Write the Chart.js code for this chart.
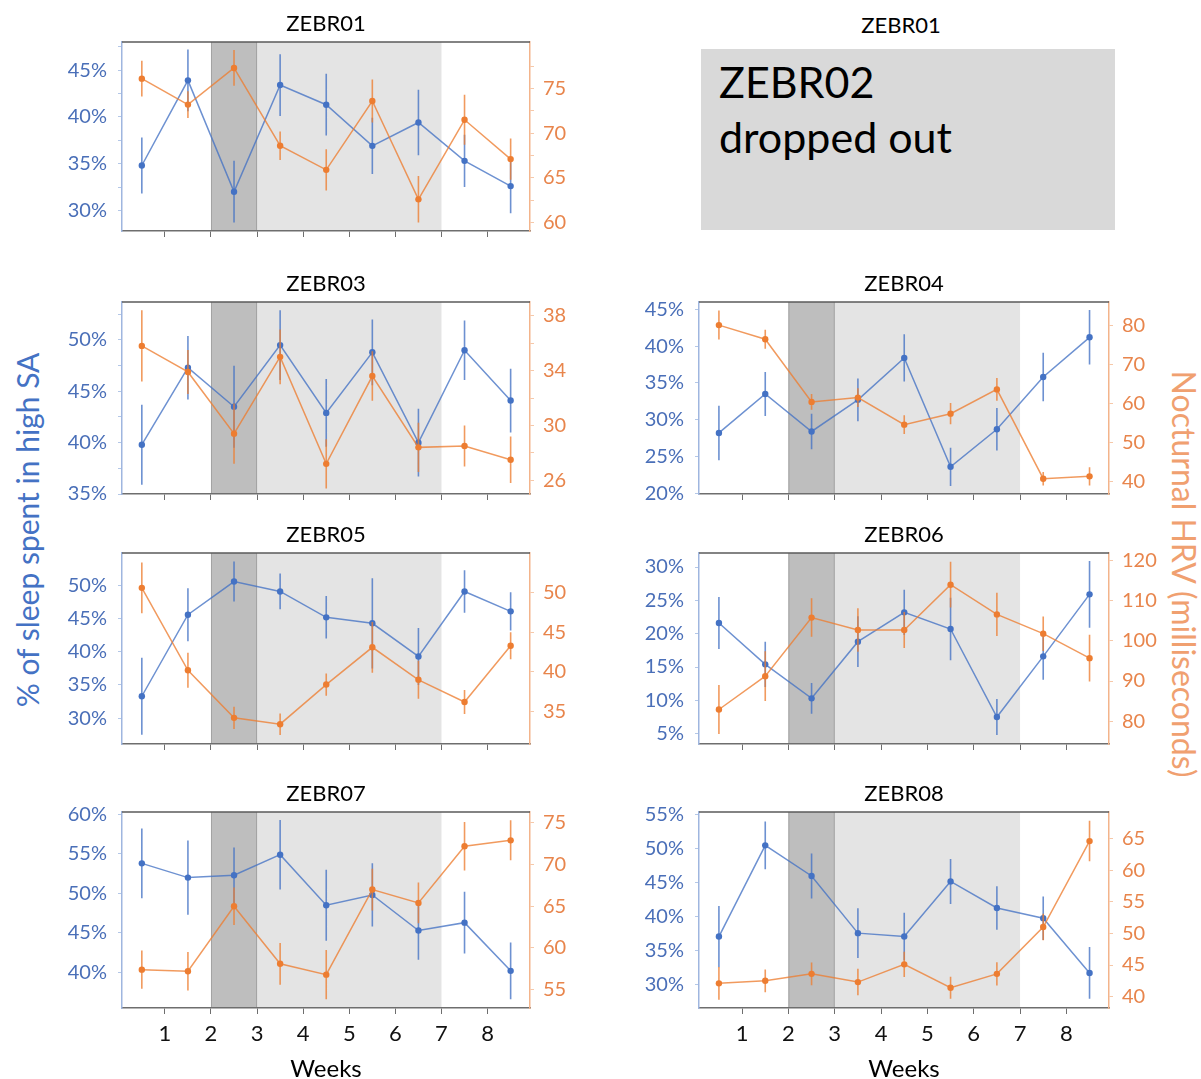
<!DOCTYPE html>
<html>
<head>
<meta charset="utf-8">
<title>Sleep in high SA and nocturnal HRV by participant</title>
<script src="https://cdn.jsdelivr.net/npm/chart.js@4.4.1/dist/chart.umd.min.js"></script>
<style>
  html, body { margin: 0; padding: 0; background: #fff; overflow: hidden; }
  #page { position: relative; width: 1201px; height: 1079px; font-family: Lato, "Open Sans", sans-serif; }
  #page canvas { position: absolute; }
  .axis-title { position: absolute; white-space: nowrap; line-height: 1.2; }
  #sleepTitle { left: 27px; top: 530px; font-size: 30px; color: #4472c4; transform: translate(-50%, -50%) rotate(-90deg); }
  #hrvTitle { left: 1184px; top: 574px; font-size: 32px; color: #f0a070; transform: translate(-50%, -50%) rotate(90deg); }
  #droppedTitle { position: absolute; left: 901px; top: 24px; transform: translate(-50%, -50%); font-size: 22px; color: #000; white-space: nowrap; }
  #droppedBox { position: absolute; left: 701px; top: 49px; width: 414px; height: 181px; background: #d9d9d9;
                box-sizing: border-box; padding: 5px 0 0 18px; font-size: 43px; line-height: 55px; color: #000; }
</style>
</head>
<body>
<div id="page">
  <div class="axis-title" id="sleepTitle">% of sleep spent in high SA</div>
  <div class="axis-title" id="hrvTitle">Nocturnal HRV (milliseconds)</div>
  <div id="droppedTitle">ZEBR01</div>
  <div id="droppedBox"><div>ZEBR02</div><div>dropped out</div></div>
</div>
<script>
// Each measurement sits in the middle of its week interval
const periods = [0.5, 1.5, 2.5, 3.5, 4.5, 5.5, 6.5, 7.5, 8.5];
const weekTicks = [1, 2, 3, 4, 5, 6, 7, 8];
const baselineBand = [2, 3];
const interventionBand = [3, 7];

// ZEBR01
const zebr01Sleep    = [34.8, 43.9, 32.0, 43.4, 41.3, 36.9, 39.4, 35.3, 32.6];
const zebr01SleepErr = [3.0, 3.3, 3.3, 3.3, 3.3, 3.0, 3.5, 2.8, 2.9];
const zebr01Hrv      = [76.1, 73.2, 77.3, 68.6, 65.9, 73.6, 62.6, 71.5, 67.1];
const zebr01HrvErr   = [2.0, 1.5, 2.0, 1.6, 2.3, 2.4, 2.6, 2.8, 2.3];
const zebr01SleepTicks = [30, 32.5, 35, 37.5, 40, 42.5, 45, 47.5];
const zebr01SleepLabels = [30, 35, 40, 45];
const zebr01HrvTicks = [60, 62.5, 65, 67.5, 70, 72.5, 75, 77.5];
const zebr01HrvLabels = [60, 65, 70, 75];

// ZEBR03
const zebr03Sleep    = [39.8, 47.3, 43.5, 49.5, 42.9, 48.8, 40.0, 49.0, 44.1];
const zebr03SleepErr = [3.9, 3.1, 4.0, 3.4, 3.3, 3.2, 3.3, 2.9, 3.1];
const zebr03Hrv      = [35.8, 33.9, 29.4, 35.0, 27.2, 33.6, 28.4, 28.5, 27.5];
const zebr03HrvErr   = [2.6, 1.6, 2.2, 2.0, 1.8, 1.8, 1.8, 1.5, 1.7];
const zebr03SleepTicks = [35, 37.5, 40, 42.5, 45, 47.5, 50, 52.5];
const zebr03SleepLabels = [35, 40, 45, 50];
const zebr03HrvTicks = [26, 28, 30, 32, 34, 36, 38];
const zebr03HrvLabels = [26, 30, 34, 38];

// ZEBR04
const zebr04Sleep    = [28.2, 33.5, 28.4, 32.7, 38.4, 23.6, 28.7, 35.8, 41.2];
const zebr04SleepErr = [3.7, 3.0, 2.4, 2.9, 3.2, 2.6, 2.9, 3.3, 3.7];
const zebr04Hrv      = [80.0, 76.4, 60.4, 61.5, 54.6, 57.4, 63.6, 40.8, 41.4];
const zebr04HrvErr   = [3.7, 2.4, 2.0, 2.4, 2.4, 2.7, 2.9, 1.7, 2.3];
const zebr04SleepTicks = [20, 25, 30, 35, 40, 45];
const zebr04HrvTicks = [40, 50, 60, 70, 80];

// ZEBR05
const zebr05Sleep    = [33.3, 45.6, 50.6, 49.1, 45.2, 44.3, 39.3, 49.1, 46.1];
const zebr05SleepErr = [5.8, 4.0, 3.0, 2.7, 3.2, 6.8, 4.3, 3.2, 2.9];
const zebr05Hrv      = [50.6, 40.2, 34.2, 33.4, 38.4, 43.1, 39.0, 36.2, 43.3];
const zebr05HrvErr   = [3.2, 2.2, 1.4, 1.35, 1.4, 3.2, 2.4, 1.5, 1.7];
const zebr05SleepTicks = [30, 35, 40, 45, 50];
const zebr05HrvTicks = [35, 40, 45, 50];

// ZEBR06
const zebr06Sleep    = [21.6, 15.4, 10.3, 18.8, 23.2, 20.7, 7.5, 16.6, 25.9];
const zebr06SleepErr = [3.9, 3.4, 2.3, 3.8, 3.4, 4.7, 2.7, 3.5, 5.0];
const zebr06Hrv      = [82.9, 91.2, 105.8, 102.7, 102.7, 114.0, 106.6, 101.8, 95.7];
const zebr06HrvErr   = [6.1, 6.2, 4.8, 5.4, 4.5, 5.7, 5.4, 4.3, 5.8];
const zebr06SleepTicks = [5, 10, 15, 20, 25, 30];
const zebr06HrvTicks = [80, 90, 100, 110, 120];

// ZEBR07
const zebr07Sleep    = [53.8, 52.0, 52.3, 54.9, 48.5, 49.8, 45.3, 46.3, 40.2];
const zebr07SleepErr = [4.4, 4.7, 3.5, 4.4, 4.5, 4.0, 3.7, 3.9, 3.6];
const zebr07Hrv      = [57.4, 57.2, 65.0, 58.1, 56.8, 67.0, 65.4, 72.2, 72.9];
const zebr07HrvErr   = [2.3, 2.3, 2.25, 2.5, 2.95, 2.5, 2.45, 2.9, 2.4];
const zebr07SleepTicks = [40, 45, 50, 55, 60];
const zebr07HrvTicks = [55, 60, 65, 70, 75];

// ZEBR08
const zebr08Sleep    = [37.1, 50.5, 46.0, 37.6, 37.1, 45.2, 41.3, 39.8, 31.75];
const zebr08SleepErr = [4.5, 3.5, 3.3, 3.65, 3.5, 3.3, 3.2, 3.2, 3.8];
const zebr08Hrv      = [42.1, 42.5, 43.6, 42.3, 45.1, 41.4, 43.6, 51.0, 64.6];
const zebr08HrvErr   = [2.6, 1.8, 1.8, 2.1, 2.0, 1.75, 1.85, 2.1, 3.2];
const zebr08SleepTicks = [30, 35, 40, 45, 50, 55];
const zebr08HrvTicks = [40, 45, 50, 55, 60, 65];

// Panel grid: plot-area edges for each column and row
const COLS = [{ left: 122, right: 530 }, { left: 699, right: 1109 }];
const ROWS = [{ top: 42, bottom: 238 }, { top: 302, bottom: 501 }, { top: 553, bottom: 751 }, { top: 812, bottom: 1008 }];
const X_RANGE = [0.07, 8.92];

const SLEEP_LINE = 'rgba(68,114,196,0.78)';
const SLEEP_POINT = '#4472c4';
const HRV_LINE = 'rgba(237,125,49,0.78)';
const HRV_POINT = '#ed7d31';

const panels = [
  { name: 'ZEBR01', col: 0, row: 0, sleep: zebr01Sleep, sleepErr: zebr01SleepErr, hrv: zebr01Hrv, hrvErr: zebr01HrvErr,
    sleepRange: [27.8, 48.0], hrvRange: [59.06, 80.2], sleepTicks: zebr01SleepTicks, sleepLabels: zebr01SleepLabels, hrvTicks: zebr01HrvTicks, hrvLabels: zebr01HrvLabels },
  { name: 'ZEBR03', col: 0, row: 1, sleep: zebr03Sleep, sleepErr: zebr03SleepErr, hrv: zebr03Hrv, hrvErr: zebr03HrvErr,
    sleepRange: [35, 53.7], hrvRange: [25, 39], sleepTicks: zebr03SleepTicks, sleepLabels: zebr03SleepLabels, hrvTicks: zebr03HrvTicks, hrvLabels: zebr03HrvLabels },
  { name: 'ZEBR04', col: 1, row: 1, sleep: zebr04Sleep, sleepErr: zebr04SleepErr, hrv: zebr04Hrv, hrvErr: zebr04HrvErr,
    sleepRange: [19.9, 46.0], hrvRange: [36.9, 85.9], sleepTicks: zebr04SleepTicks, sleepLabels: zebr04SleepTicks, hrvTicks: zebr04HrvTicks, hrvLabels: zebr04HrvTicks },
  { name: 'ZEBR05', col: 0, row: 2, sleep: zebr05Sleep, sleepErr: zebr05SleepErr, hrv: zebr05Hrv, hrvErr: zebr05HrvErr,
    sleepRange: [26.1, 54.9], hrvRange: [30.9, 55.0], sleepTicks: zebr05SleepTicks, sleepLabels: zebr05SleepTicks, hrvTicks: zebr05HrvTicks, hrvLabels: zebr05HrvTicks },
  { name: 'ZEBR06', col: 1, row: 2, sleep: zebr06Sleep, sleepErr: zebr06SleepErr, hrv: zebr06Hrv, hrvErr: zebr06HrvErr,
    sleepRange: [3.45, 32.1], hrvRange: [74.3, 121.9], sleepTicks: zebr06SleepTicks, sleepLabels: zebr06SleepTicks, hrvTicks: zebr06HrvTicks, hrvLabels: zebr06HrvTicks },
  { name: 'ZEBR07', col: 0, row: 3, sleep: zebr07Sleep, sleepErr: zebr07SleepErr, hrv: zebr07Hrv, hrvErr: zebr07HrvErr,
    sleepRange: [35.5, 60.3], hrvRange: [52.8, 76.3], sleepTicks: zebr07SleepTicks, sleepLabels: zebr07SleepTicks, hrvTicks: zebr07HrvTicks, hrvLabels: zebr07HrvTicks },
  { name: 'ZEBR08', col: 1, row: 3, sleep: zebr08Sleep, sleepErr: zebr08SleepErr, hrv: zebr08Hrv, hrvErr: zebr08HrvErr,
    sleepRange: [26.6, 55.4], hrvRange: [38.2, 69.2], sleepTicks: zebr08SleepTicks, sleepLabels: zebr08SleepTicks, hrvTicks: zebr08HrvTicks, hrvLabels: zebr08HrvTicks }
];

// Grey backgrounds marking the baseline week and the intervention weeks
const bandsPlugin = {
  id: 'phaseBands',
  beforeDraw(chart) {
    const { ctx, chartArea: a, scales: { x } } = chart;
    const xb0 = x.getPixelForValue(baselineBand[0]);
    const xb1 = x.getPixelForValue(baselineBand[1]);
    const xi1 = x.getPixelForValue(interventionBand[1]);
    ctx.save();
    ctx.fillStyle = '#e4e4e4';
    ctx.fillRect(xb1, a.top, xi1 - xb1, a.bottom - a.top);
    ctx.fillStyle = '#bebebe';
    ctx.fillRect(xb0, a.top, xb1 - xb0, a.bottom - a.top);
    ctx.strokeStyle = '#a3a3a3';
    ctx.lineWidth = 1;
    ctx.beginPath();
    ctx.moveTo(xb0 + 0.5, a.top); ctx.lineTo(xb0 + 0.5, a.bottom);
    ctx.moveTo(xb1 - 0.5, a.top); ctx.lineTo(xb1 - 0.5, a.bottom);
    ctx.stroke();
    ctx.restore();
  }
};

// Vertical error bars (mean ± error) under each series
const errorBarPlugin = {
  id: 'errorBars',
  beforeDatasetDraw(chart, args) {
    const ds = chart.data.datasets[args.index];
    const meta = args.meta;
    const yScale = chart.scales[meta.yAxisID];
    const ctx = chart.ctx;
    ctx.save();
    ctx.strokeStyle = ds.borderColor;
    ctx.lineWidth = 1.6;
    ctx.beginPath();
    meta.data.forEach((pt, i) => {
      const v = ds.data[i].y, e = ds.errors[i];
      ctx.moveTo(pt.x, yScale.getPixelForValue(v + e));
      ctx.lineTo(pt.x, yScale.getPixelForValue(v - e));
    });
    ctx.stroke();
    ctx.restore();
  }
};

// Frame top edge, panel title and the "Weeks" caption
const decorPlugin = {
  id: 'panelDecor',
  afterDraw(chart, args, opts) {
    const { ctx, chartArea: a } = chart;
    ctx.save();
    ctx.strokeStyle = '#5a5a5a';
    ctx.lineWidth = 1.5;
    ctx.beginPath();
    ctx.moveTo(a.left, a.top);
    ctx.lineTo(a.right, a.top);
    ctx.stroke();
    ctx.fillStyle = '#000';
    ctx.textAlign = 'center';
    ctx.textBaseline = 'middle';
    ctx.font = '22px Lato';
    ctx.fillText(opts.title, (a.left + a.right) / 2, a.top - 18);
    if (opts.weeks) {
      ctx.font = '24px Lato';
      ctx.fillText('Weeks', (a.left + a.right) / 2, a.bottom + 61);
    }
    ctx.restore();
  }
};

function buildPanel(p) {
  const page = document.getElementById('page');
  const col = COLS[p.col], row = ROWS[p.row];
  const bottomRow = p.row === ROWS.length - 1;
  const LW = 100, RW = 70, TOP = 40, XH = bottomRow ? 70 : 16;
  const w = LW + (col.right - col.left) + RW;
  const h = TOP + (row.bottom - row.top) + XH;
  const canvas = document.createElement('canvas');
  canvas.width = w;
  canvas.height = h;
  canvas.style.left = (col.left - LW) + 'px';
  canvas.style.top = (row.top - TOP) + 'px';
  canvas.style.width = w + 'px';
  canvas.style.height = h + 'px';
  page.appendChild(canvas);

  const series = (values, errors, axis, line, point, label) => ({
    label,
    data: periods.map((x, i) => ({ x, y: values[i] })),
    errors,
    yAxisID: axis,
    borderColor: line,
    backgroundColor: point,
    pointBackgroundColor: point,
    pointBorderWidth: 0,
    pointRadius: 3.2,
    borderWidth: 1.5,
    tension: 0
  });

  new Chart(canvas, {
    type: 'line',
    data: {
      datasets: [
        series(p.hrv, p.hrvErr, 'y1', HRV_LINE, HRV_POINT, 'Nocturnal HRV'),
        series(p.sleep, p.sleepErr, 'y', SLEEP_LINE, SLEEP_POINT, 'Sleep in high SA')
      ]
    },
    options: {
      responsive: false,
      animation: false,
      devicePixelRatio: 1,
      events: [],
      layout: { padding: { top: TOP, left: 0, right: 0, bottom: 0 } },
      plugins: {
        legend: { display: false },
        tooltip: { enabled: false },
        title: { display: false },
        panelDecor: { title: p.name, weeks: bottomRow }
      },
      scales: {
        x: {
          type: 'linear', position: 'bottom', min: X_RANGE[0], max: X_RANGE[1],
          afterFit(s) { s.height = XH; },
          afterBuildTicks(s) { s.ticks = weekTicks.map(v => ({ value: v })); },
          grid: { drawOnChartArea: false, drawTicks: true, tickLength: 6, color: '#6e6e6e', lineWidth: 1 },
          border: { display: true, color: '#6e6e6e', width: 1.5 },
          ticks: {
            display: bottomRow, color: '#111', font: { family: 'Lato', size: 22 }, padding: 7,
            maxRotation: 0, autoSkip: false, callback: v => String(v)
          }
        },
        y: {
          type: 'linear', position: 'left', min: p.sleepRange[0], max: p.sleepRange[1],
          afterFit(s) { s.width = LW; },
          afterBuildTicks(s) { s.ticks = p.sleepTicks.map(v => ({ value: v })); },
          grid: { drawOnChartArea: false, drawTicks: true, tickLength: 4, color: '#b4c7e7' },
          border: { display: true, color: '#9fb6df', width: 1.5 },
          ticks: {
            color: '#4a6fb8', font: { family: 'Lato', size: 20 }, padding: 11, autoSkip: false,
            callback: v => p.sleepLabels.includes(v) ? v + '%' : ''
          }
        },
        y1: {
          type: 'linear', position: 'right', min: p.hrvRange[0], max: p.hrvRange[1],
          afterFit(s) { s.width = RW; },
          afterBuildTicks(s) { s.ticks = p.hrvTicks.map(v => ({ value: v })); },
          grid: { drawOnChartArea: false, drawTicks: true, tickLength: 4, color: '#f6c8a9' },
          border: { display: true, color: '#f3b48b', width: 1.5 },
          ticks: {
            color: '#e8854c', font: { family: 'Lato', size: 20 }, padding: 9, autoSkip: false,
            callback: v => p.hrvLabels.includes(v) ? String(v) : ''
          }
        }
      }
    },
    plugins: [bandsPlugin, errorBarPlugin, decorPlugin]
  });
}

function buildAll() { panels.forEach(buildPanel); }

if (document.fonts && document.fonts.load) {
  Promise.all([document.fonts.load('20px Lato'), document.fonts.load('22px Lato')]).then(buildAll, buildAll);
} else {
  buildAll();
}
</script>
</body>
</html>
